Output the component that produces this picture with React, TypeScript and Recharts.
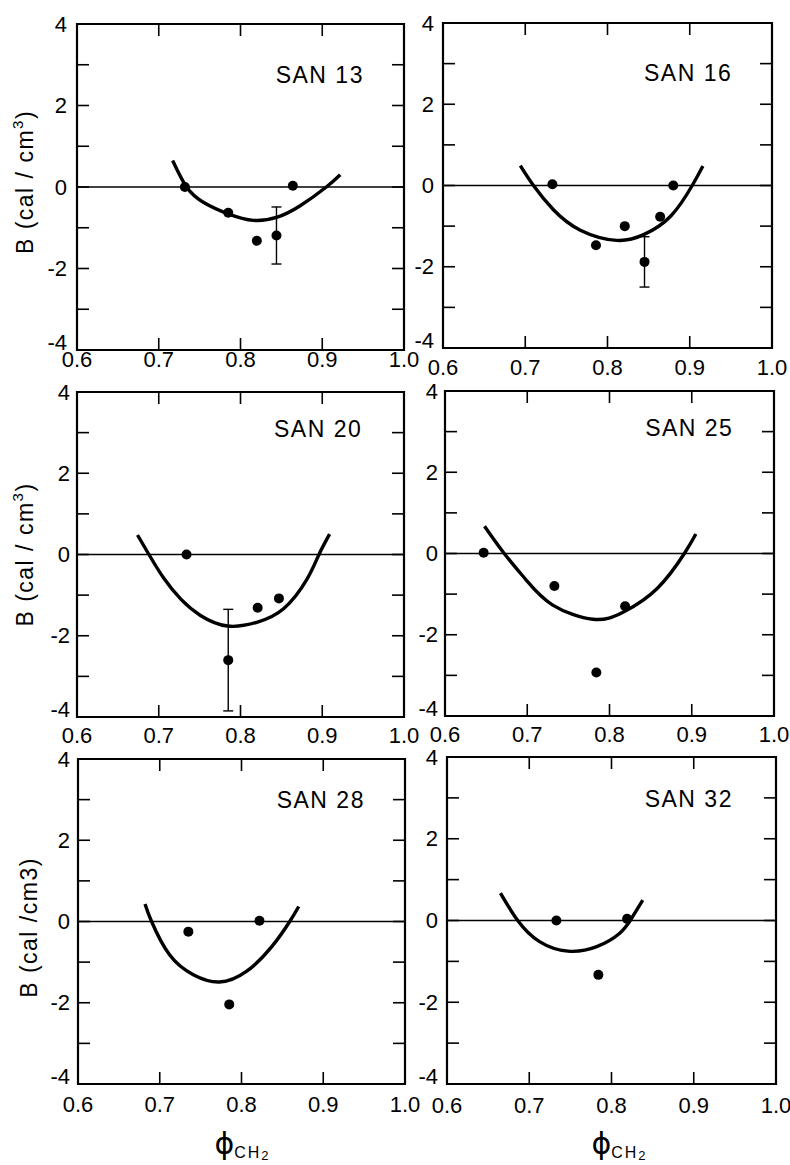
import React from 'react';
import {
  ComposedChart,
  Line,
  Scatter,
  XAxis,
  YAxis,
  ReferenceLine,
  ReferenceArea,
  ReferenceDot,
  ErrorBar,
} from 'recharts';

const FONT = '"Liberation Sans", Arial, Helvetica, sans-serif';
const INK = '#000';

// Axis ticks
const X_TICKS = [0.6, 0.7, 0.8, 0.9, 1.0];
const X_INNER_TICKS = [0.7, 0.8, 0.9];
const Y_TICKS = [-4, -3, -2, -1, 0, 1, 2, 3, 4];
const Y_LABELED = [-4, -2, 0, 2, 4];

// Fitted curves and measured B values, rows are [phi, B] or [phi, B, error]
const SAN13_FIT = [
  [0.717, 0.65], [0.734, 0.0], [0.755, -0.38], [0.785, -0.66], [0.816, -0.82],
  [0.845, -0.74], [0.873, -0.46], [0.905, 0.0], [0.922, 0.3],
];
const SAN13_PTS = [[0.732, 0.0], [0.785, -0.63], [0.82, -1.32], [0.864, 0.03]];
const SAN13_ERR = [[0.844, -1.19, 0.7]];

const SAN16_FIT = [
  [0.694, 0.49], [0.71, 0.0], [0.734, -0.59], [0.767, -1.1], [0.811, -1.35],
  [0.844, -1.21], [0.877, -0.75], [0.903, 0.0], [0.916, 0.48],
];
const SAN16_PTS = [[0.733, 0.03], [0.786, -1.47], [0.821, -1.0], [0.864, -0.77], [0.88, 0.0]];
const SAN16_ERR = [[0.845, -1.88, 0.62]];

const SAN20_FIT = [
  [0.674, 0.48], [0.688, 0.0], [0.706, -0.58], [0.727, -1.1], [0.751, -1.5],
  [0.784, -1.76], [0.82, -1.67], [0.853, -1.33], [0.881, -0.62], [0.896, 0.0], [0.909, 0.5],
];
const SAN20_PTS = [[0.734, 0.0], [0.821, -1.31], [0.847, -1.08]];
const SAN20_ERR = [[0.785, -2.6, 1.25]];

const SAN25_FIT = [
  [0.648, 0.67], [0.672, 0.0], [0.699, -0.66], [0.731, -1.27], [0.78, -1.62],
  [0.817, -1.44], [0.858, -0.86], [0.891, 0.0], [0.905, 0.48],
];
const SAN25_PTS = [[0.647, 0.02], [0.733, -0.8], [0.784, -2.93], [0.819, -1.3]];
const SAN25_ERR: number[][] = [];

const SAN28_FIT = [
  [0.682, 0.43], [0.69, 0.0], [0.712, -0.82], [0.741, -1.31], [0.773, -1.49],
  [0.806, -1.23], [0.837, -0.62], [0.859, 0.0], [0.87, 0.37],
];
const SAN28_PTS = [[0.735, -0.25], [0.785, -2.04], [0.822, 0.02]];
const SAN28_ERR: number[][] = [];

const SAN32_FIT = [
  [0.665, 0.67], [0.686, 0.0], [0.712, -0.51], [0.747, -0.75], [0.782, -0.64],
  [0.81, -0.31], [0.824, 0.04], [0.838, 0.5],
];
const SAN32_PTS = [[0.733, 0.0], [0.784, -1.33], [0.819, 0.04]];
const SAN32_ERR: number[][] = [];

type Row = { x: number; y: number; err?: number };
const rows = (list: number[][]): Row[] =>
  list.map(([x, y, err]) => (err === undefined ? { x, y } : { x, y, err }));

type Panel = {
  name: string;
  nameAt: [number, number];
  fit: number[][];
  pts: number[][];
  err: number[][];
  box: { x: number; y: number; w: number; h: number };
  xLabelDy: number;
  yLabelGap: number;
  title?: 'sup' | 'plain';
  titleDx?: number;
  titleDy?: number;
  xTitle?: boolean;
  xTitleDx?: number;
};

const PANELS: Panel[] = [
  {
    name: 'SAN 13', nameAt: [0.897, 2.75], fit: SAN13_FIT, pts: SAN13_PTS, err: SAN13_ERR,
    box: { x: 77, y: 24, w: 327, h: 326 }, xLabelDy: 17, yLabelGap: 10,
    title: 'sup', titleDx: 52, titleDy: -5,
  },
  {
    name: 'SAN 16', nameAt: [0.898, 2.76], fit: SAN16_FIT, pts: SAN16_PTS, err: SAN16_ERR,
    box: { x: 443, y: 23, w: 329, h: 325 }, xLabelDy: 27, yLabelGap: 9,
  },
  {
    name: 'SAN 20', nameAt: [0.895, 3.08], fit: SAN20_FIT, pts: SAN20_PTS, err: SAN20_ERR,
    box: { x: 77, y: 392, w: 327, h: 325 }, xLabelDy: 26, yLabelGap: 7,
    title: 'sup', titleDx: 52, titleDy: 0,
  },
  {
    name: 'SAN 25', nameAt: [0.897, 3.1], fit: SAN25_FIT, pts: SAN25_PTS, err: SAN25_ERR,
    box: { x: 445, y: 391, w: 329, h: 325 }, xLabelDy: 26, yLabelGap: 7,
  },
  {
    name: 'SAN 28', nameAt: [0.897, 2.99], fit: SAN28_FIT, pts: SAN28_PTS, err: SAN28_ERR,
    box: { x: 78, y: 759, w: 327, h: 325 }, xLabelDy: 28, yLabelGap: 8,
    title: 'plain', titleDx: 49, titleDy: 6, xTitle: true, xTitleDx: 0,
  },
  {
    name: 'SAN 32', nameAt: [0.894, 2.97], fit: SAN32_FIT, pts: SAN32_PTS, err: SAN32_ERR,
    box: { x: 447, y: 757, w: 329, h: 327 }, xLabelDy: 29, yLabelGap: 9,
    xTitle: true, xTitleDx: 7,
  },
];

const TICK_LEN = 12;
const TICK_W = 1.6;
const TICK_FONT = 22;
// the lowest value label sits just above the corner
const BOTTOM_LABEL_LIFT = 8;

const dotShape = (props: any) => {
  const { cx, cy } = props;
  if (cx == null || cy == null) return <g />;
  return <circle cx={cx} cy={cy} r={5} fill={INK} />;
};

const makeYTick = (p: Panel) => (props: any) => {
  const { x, y, payload } = props;
  const v = payload.value as number;
  const mark = v > -4 && v < 4;
  const ly = v === -4 ? y - BOTTOM_LABEL_LIFT : y;
  return (
    <g>
      {mark && <line x1={x} x2={x + TICK_LEN} y1={y} y2={y} stroke={INK} strokeWidth={TICK_W} />}
      {mark && (
        <line x1={x + p.box.w} x2={x + p.box.w - TICK_LEN} y1={y} y2={y} stroke={INK} strokeWidth={TICK_W} />
      )}
      {Y_LABELED.includes(v) && (
        <text
          x={x - p.yLabelGap}
          y={ly}
          textAnchor="end"
          dominantBaseline="central"
          fontFamily={FONT}
          fontSize={TICK_FONT}
          fill={INK}
        >
          {String(v)}
        </text>
      )}
    </g>
  );
};

const makeXTick = (p: Panel) => (props: any) => {
  const { x, y, payload } = props;
  const v = payload.value as number;
  const inner = X_INNER_TICKS.some((t) => Math.abs(t - v) < 1e-6);
  return (
    <g>
      {inner && <line x1={x} x2={x} y1={y} y2={y - TICK_LEN} stroke={INK} strokeWidth={TICK_W} />}
      {inner && (
        <line x1={x} x2={x} y1={y - p.box.h} y2={y - p.box.h + TICK_LEN} stroke={INK} strokeWidth={TICK_W} />
      )}
      <text
        x={x}
        y={y + p.xLabelDy}
        textAnchor="middle"
        fontFamily={FONT}
        fontSize={TICK_FONT}
        fill={INK}
      >
        {v.toFixed(1)}
      </text>
    </g>
  );
};

const makeYTitle = (p: Panel) => (props: any) => {
  const vb = props.viewBox || {};
  const cx = vb.x + (vb.width || 0) - (p.titleDx || 50);
  const cy = vb.y + vb.height / 2 + (p.titleDy || 0);
  return (
    <text
      x={cx}
      y={cy}
      transform={`rotate(-90 ${cx} ${cy})`}
      textAnchor="middle"
      dominantBaseline="central"
      fontFamily={FONT}
      fontSize={23}
      letterSpacing={1.5}
      fill={INK}
    >
      {p.title === 'sup' ? (
        <>
          B (cal / cm
          <tspan dy={-8} fontSize={15}>3</tspan>
          <tspan dy={8}>)</tspan>
        </>
      ) : (
        'B (cal /cm3)'
      )}
    </text>
  );
};

const makeXTitle = (p: Panel) => (props: any) => {
  const vb = props.viewBox || {};
  const cx = vb.x + vb.width / 2 + (p.xTitleDx || 0);
  const base = vb.y + 70;
  return (
    <text x={cx} y={base} textAnchor="middle" fontFamily={FONT} fill={INK}>
      <tspan fontSize={30} fontFamily='"DejaVu Sans", sans-serif'>ϕ</tspan>
      <tspan fontSize={16} dy={4} letterSpacing={2}>CH</tspan>
      <tspan fontSize={13} dy={2}>2</tspan>
    </text>
  );
};

const makeNameLabel = (p: Panel) => (props: any) => {
  const vb = props.viewBox || {};
  const cx = vb.x + (vb.width || 0) / 2;
  const cy = vb.y + (vb.height || 0) / 2;
  return (
    <text
      x={cx}
      y={cy}
      textAnchor="middle"
      dominantBaseline="central"
      fontFamily={FONT}
      fontSize={23}
      letterSpacing={1.5}
      fill={INK}
    >
      {p.name}
    </text>
  );
};

const MT = 22;
const MR = 24;
// axes get a 1px band so that they are laid out and drawn
const AXIS_BAND = 1;

function PanelChart({ p }: { p: Panel }) {
  const ml = p.box.x < 200 ? p.box.x : 62;
  const mb = p.xTitle ? 1165 - (p.box.y + p.box.h) : 34;
  const width = p.box.w + ml + MR;
  const height = p.box.h + MT + mb;
  return (
    <div style={{ position: 'absolute', left: p.box.x - ml, top: p.box.y - MT }}>
      <ComposedChart
        width={width}
        height={height}
        margin={{ top: MT, right: MR, bottom: mb - AXIS_BAND, left: ml - AXIS_BAND }}
      >
        <XAxis
          type="number"
          dataKey="x"
          domain={[0.6, 1.0]}
          ticks={X_TICKS}
          interval={0}
          allowDataOverflow
          height={AXIS_BAND}
          axisLine={false}
          tickLine={false}
          tickSize={0}
          tickMargin={0}
          tick={makeXTick(p)}
          label={p.xTitle ? makeXTitle(p) : undefined}
        />
        <YAxis
          type="number"
          dataKey="y"
          domain={[-4, 4]}
          ticks={Y_TICKS}
          interval={0}
          allowDataOverflow
          width={AXIS_BAND}
          axisLine={false}
          tickLine={false}
          tickSize={0}
          tickMargin={0}
          tick={makeYTick(p)}
          label={p.title ? makeYTitle(p) : undefined}
        />
        <ReferenceArea x1={0.6} x2={1.0} y1={-4} y2={4} fill="none" stroke={INK} strokeWidth={2.2} />
        <ReferenceLine y={0} stroke={INK} strokeWidth={1.6} />
        <Line
          data={rows(p.fit)}
          dataKey="y"
          type="natural"
          stroke={INK}
          strokeWidth={3.4}
          dot={false}
          activeDot={false}
          isAnimationActive={false}
        />
        <Scatter data={rows(p.pts)} dataKey="y" shape={dotShape} isAnimationActive={false} />
        {p.err.length > 0 && (
          <Scatter data={rows(p.err)} dataKey="y" shape={dotShape} isAnimationActive={false}>
            <ErrorBar dataKey="err" direction="y" width={5} stroke={INK} strokeWidth={1.4} isAnimationActive={false} />
          </Scatter>
        )}
        <ReferenceDot x={p.nameAt[0]} y={p.nameAt[1]} r={0} fill="none" stroke="none" label={makeNameLabel(p)} />
      </ComposedChart>
    </div>
  );
}

export default function App() {
  return (
    <div style={{ position: 'absolute', left: 0, top: 0, width: 790, height: 1165, background: '#fff', overflow: 'hidden' }}>
      {PANELS.map((p) => (
        <PanelChart key={p.name} p={p} />
      ))}
    </div>
  );
}
